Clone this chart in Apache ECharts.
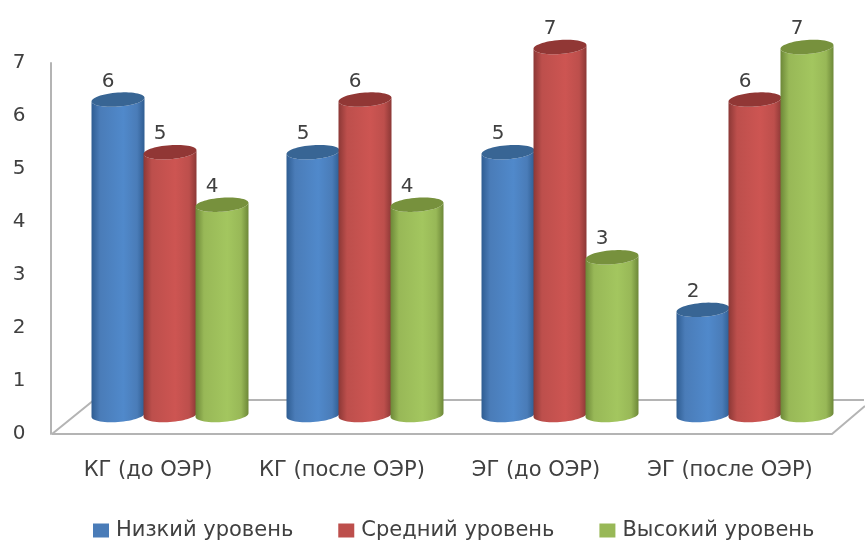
<!DOCTYPE html>
<html><head><meta charset="utf-8">
<style>html,body{margin:0;padding:0;background:#fff}#c{width:865px;height:541px}</style>
<script src="https://cdn.jsdelivr.net/npm/echarts@6/dist/echarts.min.js"></script>
</head><body><div id="c"></div>
<script>
const categories = ['КГ (до ОЭР)', 'КГ (после ОЭР)', 'ЭГ (до ОЭР)', 'ЭГ (после ОЭР)'];
const low = [6, 5, 5, 2];
const mid = [5, 6, 7, 6];
const high = [4, 4, 3, 7];
const yTicks = { min: 0, max: 7, interval: 1 };
const FONT = '"DejaVu Sans", sans-serif';
const TEXT = '#404040';
const palette = [
  { name: 'Низкий уровень', base: '#4a7cb8', edge: '#2f5d92', hi: '#5089cb', top: '#386594' },
  { name: 'Средний уровень', base: '#bd4f4c', edge: '#8c3836', hi: '#cd5552', top: '#913735' },
  { name: 'Высокий уровень', base: '#98b857', edge: '#6d8838', hi: '#a3c65f', top: '#77913d' }
];
const BAR_W = 53, STEP = 52, RY = 7, SHEAR = -0.07;
function ellipsePts(cx, cy, a, b, from, to, n) {
  const out = [];
  for (let i = 0; i <= n; i++) {
    const t = from + (to - from) * i / n;
    out.push([cx + a * Math.cos(t), cy + b * Math.sin(t) + SHEAR * a * Math.cos(t)]);
  }
  return out;
}
function cylinder(sIdx, pal) {
  return function (params, api) {
    const i = api.value(0), v = api.value(1);
    const top = api.coord([i, v]), base = api.coord([i, 0]);
    const cx = top[0] + (sIdx - 1) * STEP, a = BAR_W / 2;
    const body = ellipsePts(cx, base[1], a, RY, 0, Math.PI, 30)
      .concat(ellipsePts(cx, top[1], a, RY, Math.PI, 0, 30));
    return {
      type: 'group',
      children: [
        { type: 'polygon', shape: { points: body }, style: {
            fill: new echarts.graphic.LinearGradient(0, 0, 1, 0, [
              { offset: 0, color: pal.edge }, { offset: 0.16, color: pal.base },
              { offset: 0.6, color: pal.hi }, { offset: 0.86, color: pal.base },
              { offset: 1, color: pal.edge }]) } },
        { type: 'polygon', shape: { points: ellipsePts(cx, top[1], a, RY, 0, 2 * Math.PI, 60) },
          style: { fill: pal.top } },
        { type: 'text', x: cx - 10, y: top[1] - 18, style: {
            text: String(v), font: '20px ' + FONT, fill: TEXT, align: 'center', verticalAlign: 'middle' } }
      ]
    };
  };
}
const chart = echarts.init(document.getElementById('c'), null, { renderer: 'canvas' });
const floorStyle = { stroke: '#b4b4b4', lineWidth: 2, fill: null };
chart.setOption({
  animation: false,
  backgroundColor: '#fff',
  textStyle: { fontFamily: FONT },
  graphic: [
    { type: 'polyline', z: 0, shape: { points: [[52, 434], [94, 400], [864, 400]] }, style: floorStyle },
    { type: 'polyline', z: 0, shape: { points: [[52, 434], [832, 434], [865, 406]] }, style: floorStyle }
  ],
  legend: {
    left: 88, top: 515, itemWidth: 16, itemHeight: 14, itemGap: 45, icon: 'rect',
    textStyle: { fontFamily: FONT, fontSize: 21, color: TEXT, padding: [0, 0, 0, 2] },
    data: palette.map(p => p.name)
  },
  grid: [
    { left: 51, top: 63, width: 776, height: 371 },
    { left: 72.5, top: 47, width: 780, height: 368 }
  ],
  xAxis: [
    { type: 'category', gridIndex: 0, data: categories,
      axisLine: { show: false }, axisTick: { show: false },
      axisLabel: { color: TEXT, fontSize: 21, fontFamily: FONT, margin: 26, interval: 0 } },
    { type: 'category', gridIndex: 1, data: categories, show: false }
  ],
  yAxis: [
    { type: 'value', gridIndex: 0, ...yTicks,
      axisLine: { show: true, lineStyle: { color: '#b4b4b4', width: 2 } }, axisTick: { show: false },
      splitLine: { show: false },
      axisLabel: { color: TEXT, fontSize: 20, fontFamily: FONT, align: 'center', margin: 32, padding: [5, 0, 0, 0] } },
    { type: 'value', gridIndex: 1, ...yTicks, show: false, splitLine: { show: false } }
  ],
  series: [low, mid, high].map((vals, s) => ({
    type: 'custom', name: palette[s].name, xAxisIndex: 1, yAxisIndex: 1, z: 2 + s,
    itemStyle: { color: palette[s].base },
    encode: { x: 0, y: 1 },
    clip: false,
    data: vals.map((v, i) => [i, v]),
    renderItem: cylinder(s, palette[s])
  }))
});
</script></body></html>
